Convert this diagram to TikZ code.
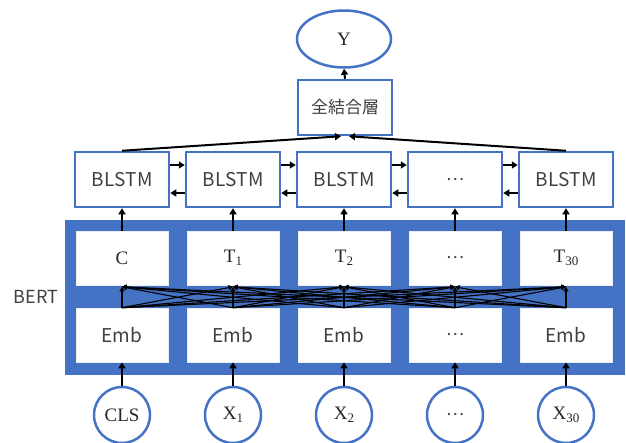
\documentclass[tikz,border=0pt]{standalone}
\usepackage{fontspec}
\usetikzlibrary{arrows.meta,shapes.geometric}
\setmainfont{Liberation Serif}
\newfontfamily\jpfont{Noto Sans CJK JP}
\newfontfamily\latsans[LetterSpace=2]{Noto Sans CJK JP}
\definecolor{bertblue}{HTML}{4472C4}
\definecolor{txtgray}{HTML}{404040}
% letter with a lowered index in the text font
\newcommand\subtxt[2]{#1\raisebox{-0.35ex}{\fontsize{13}{13}\selectfont #2}}

\tikzset{
  lstmbox/.style={draw=bertblue, line width=2.5pt, fill=white, inner sep=0pt,
    minimum width=94pt, minimum height=55pt, text=txtgray,
    font=\latsans\fontsize{19}{19}\selectfont},
  innerbox/.style={fill=white, draw=white!88!bertblue, line width=0.6pt, inner sep=0pt,
    minimum width=92pt, minimum height=54pt},
  sansbox/.style={innerbox, text=txtgray, font=\latsans\fontsize{19}{19}\selectfont},
  serifbox/.style={innerbox, text=black!85, font=\fontsize{19}{19}\selectfont},
  tok/.style={circle, draw=bertblue, line width=2.5pt, fill=white, inner sep=0pt,
    minimum size=56pt, text=black!85, font=\fontsize{19}{19}\selectfont},
  arr/.style={line width=2pt, -{Triangle[length=6pt,width=7pt]}},
  xarr/.style={line width=1.1pt, -{Triangle[length=4.5pt,width=5pt]}},
}

\begin{document}
\begin{tikzpicture}[x=1pt,y=-1pt]
\useasboundingbox (0,0) rectangle (626,442);

% BERT block background
\node[fill=bertblue, inner sep=0pt, minimum width=560pt, minimum height=155pt,
      anchor=north west] (bert) at (65,220) {};
\node[text=txtgray, font=\latsans\fontsize{18}{18}\selectfont] (bertlabel) at (36,297) {BERT};

% output and fully connected layer
\node[ellipse, draw=bertblue, line width=2.5pt, fill=white, minimum width=94pt,
      minimum height=57pt, inner sep=0pt, text=black!85, font=\fontsize{19}{19}\selectfont] (y) at (344,39) {Y};
\node[lstmbox, font=\jpfont\fontsize{17}{17}\selectfont] (fc) at (345,107.5) {全結合層};

% BLSTM row
\node[lstmbox] (l1) at (122,179.5) {BLSTM};
\node[lstmbox] (l2) at (233,179.5) {BLSTM};
\node[lstmbox] (l3) at (344,179.5) {BLSTM};
\node[lstmbox, font=\jpfont\fontsize{17}{17}\selectfont] (l4) at (455,179.5) {…};
\node[lstmbox] (l5) at (566,179.5) {BLSTM};

% BERT output row
\node[serifbox] (t1) at (122,258) {C};
\node[serifbox] (t2) at (233,258) {\subtxt{T}{1}};
\node[serifbox] (t3) at (344,258) {\subtxt{T}{2}};
\node[sansbox, font=\jpfont\fontsize{17}{17}\selectfont] (t4) at (455,258) {…};
\node[serifbox] (t5) at (566,258) {\subtxt{T}{30}};

% embedding row
\node[sansbox] (e1) at (122,335) {Emb};
\node[sansbox] (e2) at (233,335) {Emb};
\node[sansbox] (e3) at (344,335) {Emb};
\node[sansbox, font=\jpfont\fontsize{17}{17}\selectfont] (e4) at (455,335) {…};
\node[sansbox] (e5) at (566,335) {Emb};

% input tokens
\node[tok] (x1) at (122,415) {CLS};
\node[tok] (x2) at (233,415) {\subtxt{X}{1}};
\node[tok] (x3) at (344,415) {\subtxt{X}{2}};
\node[tok, text=txtgray, font=\jpfont\fontsize{17}{17}\selectfont] (x4) at (455,415) {…};
\node[tok] (x5) at (566,415) {\subtxt{X}{30}};

% vertical connections
\foreach \i in {1,...,5} {
  \draw[arr] (x\i.north) -- (e\i.south);
  \draw[arr] (t\i.north) -- (l\i.south);
}

% self-attention: every embedding feeds every output
\foreach \i in {1,...,5} {
  \foreach \j in {1,...,5} {
    \draw[xarr] (e\i.north) -- ([yshift=-1.5pt]t\j.south);
  }
}

% bidirectional links between BLSTM cells
\foreach \i/\j in {1/2,2/3,3/4,4/5} {
  \draw[arr] ([yshift=14.5pt]l\i.east) -- ([yshift=14.5pt]l\j.west);
  \draw[arr] ([yshift=-13.5pt]l\j.west) -- ([yshift=-13.5pt]l\i.east);
}

% BLSTM ends to the fully connected layer
\draw[arr] (l1.north) -- ([xshift=-4pt]fc.south);
\draw[arr] (l5.north) -- ([xshift=4pt]fc.south);
\draw[arr] (fc.north) -- (y.south);
\end{tikzpicture}
\end{document}
